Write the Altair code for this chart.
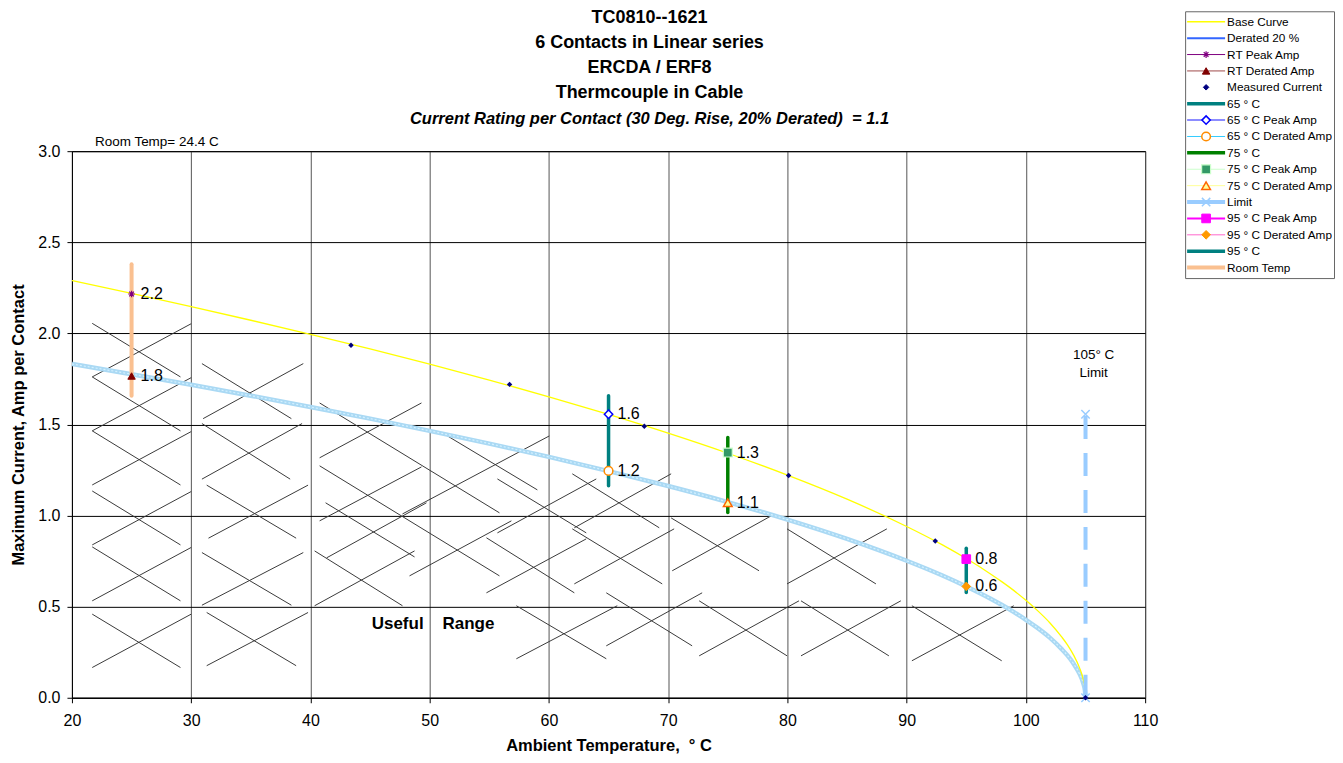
import altair as alt
import pandas as pd

# ---------------- data ----------------
base_t = [20, 25, 30, 35, 40, 45, 50, 55, 60, 65, 70, 75, 80, 85, 90, 93, 95, 97, 98, 99, 100, 101, 102, 103,
          103.5, 104, 104.5, 104.8, 104.95, 105]
base_amp = [2.29, 2.22, 2.147, 2.072, 1.995, 1.915, 1.831, 1.744, 1.652, 1.555, 1.452, 1.342, 1.222, 1.090,
            0.940, 0.839, 0.764, 0.681, 0.636, 0.588, 0.535, 0.477, 0.412, 0.334, 0.289, 0.234, 0.164, 0.103,
            0.050, 0.0]
derated_amp = [1.832, 1.776, 1.718, 1.658, 1.596, 1.532, 1.465, 1.395, 1.322, 1.244, 1.162, 1.074, 0.978, 0.872,
               0.752, 0.671, 0.611, 0.545, 0.509, 0.470, 0.428, 0.382, 0.330, 0.267, 0.231, 0.187, 0.131, 0.082,
               0.040, 0.0]

meas_t = [43.4, 56.7, 68.0, 80.1, 92.4, 105.0]
meas_amp = [1.935, 1.72, 1.49, 1.22, 0.86, 0.0]

bar_name = ["Room Temp", "65 ° C", "75 ° C", "95 ° C"]
bar_t = [25, 65, 75, 95]
bar_lo = [1.657, 1.163, 1.017, 0.578]
bar_hi = [2.379, 1.657, 1.428, 0.821]

pt_name = ["RT Peak Amp", "RT Derated Amp", "65 ° C Peak Amp", "65 ° C Derated Amp",
           "75 ° C Peak Amp", "75 ° C Derated Amp", "95 ° C Peak Amp", "95 ° C Derated Amp"]
pt_t = [25, 25, 65, 65, 75, 75, 95, 95]
pt_amp = [2.216, 1.766, 1.556, 1.245, 1.346, 1.071, 0.761, 0.611]
pt_label = ["2.2", "1.8", "1.6", "1.2", "1.3", "1.1", "0.8", "0.6"]

limit_t = [105, 105]
limit_amp = [0.0, 1.556]

hatch_x1 = [21.7, 21.7, 21.7, 21.7, 21.7, 21.7, 21.7, 21.7, 21.7, 21.7, 21.7, 21.7,
            30.9, 31.0, 30.9, 30.9, 31.3, 31.45, 30.9, 30.9, 31.3, 31.3,
            40.77, 40.77, 40.77, 40.77, 41.27, 41.36, 40.35, 40.35, 48.31, 47.72, 51.49, 55.68, 54.76, 54.76,
            55.68, 57.27, 57.27,
            61.96, 62.13, 61.96, 62.13, 64.81, 64.81,
            70.25, 70.34, 72.6, 72.6,
            79.97, 79.97, 81.14, 81.14,
            90.44, 90.44]
hatch_y1 = [2.055, 1.761, 1.761, 1.465, 1.465, 1.168, 1.135, 0.839, 0.828, 0.532, 0.459, 0.166,
            1.834, 1.532, 1.505, 1.200, 1.167, 0.876, 0.797, 0.508, 0.468, 0.176,
            1.618, 1.317, 1.273, 0.971, 1.070, 0.768, 0.806, 0.505, 0.669, 1.009, 1.437, 1.201, 0.878, 0.576,
            0.905, 0.505, 0.214,
            1.229, 0.933, 0.927, 0.625, 0.576, 0.285,
            0.987, 0.697, 0.532, 0.230,
            0.927, 0.625, 0.532, 0.230,
            0.505, 0.203]
hatch_x2 = [29.1, 30.0, 29.1, 30.0, 29.1, 30.0, 29.1, 30.0, 29.1, 30.0, 29.1, 30.0,
            38.4, 39.4, 38.3, 39.3, 38.8, 39.8, 38.4, 39.4, 38.8, 39.8,
            55.85, 49.31, 55.85, 49.31, 48.73, 49.73, 47.72, 48.73, 56.85, 60.03, 59.03, 63.13, 62.13, 63.13,
            63.97, 64.81, 65.73,
            69.25, 70.25, 69.5, 70.5, 72.01, 72.85,
            77.62, 78.63, 79.97, 80.97,
            87.42, 88.34, 88.51, 89.51,
            97.97, 98.98]
hatch_y2 = [1.761, 2.053, 1.465, 1.757, 1.168, 1.461, 0.839, 1.132, 0.532, 0.825, 0.166, 0.459,
            1.532, 1.834, 1.200, 1.505, 0.876, 1.167, 0.508, 0.797, 0.176, 0.468,
            1.015, 1.618, 0.669, 1.267, 0.773, 1.070, 0.505, 0.806, 0.971, 1.437, 1.141, 0.905, 0.576, 0.872,
            1.201, 0.214, 0.505,
            0.933, 1.229, 0.625, 0.927, 0.285, 0.576,
            0.697, 0.998, 0.230, 0.532,
            0.625, 0.927, 0.230, 0.532,
            0.203, 0.505]

legend_names = ["Base Curve", "Derated 20 %", "RT Peak Amp", "RT Derated Amp", "Measured Current",
                "65 ° C", "65 ° C Peak Amp", "65 ° C Derated Amp", "75 ° C", "75 ° C Peak Amp",
                "75 ° C Derated Amp", "Limit", "95 ° C Peak Amp", "95 ° C Derated Amp", "95 ° C", "Room Temp"]

title_lines = ["TC0810--1621", "6 Contacts in Linear series", "ERCDA / ERF8", "Thermcouple in Cable"]
subtitle_line = "Current Rating per Contact (30 Deg. Rise, 20% Derated)\u00a0\u00a0= 1.1"

# ---------------- styles ----------------
ASTERISK = "M-1,0L1,0M0,-1L0,1M-0.7,-0.7L0.7,0.7M-0.7,0.7L0.7,-0.7"
XMARK = "M-1,-1L1,1M-1,1L1,-1"
bar_color = {"Room Temp": "#fac090", "65 ° C": "#008080", "75 ° C": "#008000", "95 ° C": "#008080"}
bar_width = {"Room Temp": 4, "65 ° C": 3.5, "75 ° C": 3.5, "95 ° C": 3.5}
marker_style = {  # shape, fill, stroke, size, strokeWidth
    "RT Peak Amp": (ASTERISK, "none", "#800080", 45, 1.2),
    "RT Derated Amp": ("triangle-up", "#800000", "#800000", 55, 1),
    "Measured Current": ("diamond", "#000080", "#000080", 30, 1),
    "65 ° C Peak Amp": ("diamond", "white", "#0000ff", 70, 1.5),
    "65 ° C Derated Amp": ("circle", "white", "#ff8c00", 75, 1.5),
    "75 ° C Peak Amp": ("square", "#339966", "#ccffcc", 80, 1.2),
    "75 ° C Derated Amp": ("triangle-up", "#ffff99", "#ff6600", 75, 1.5),
    "Limit": (XMARK, "none", "#99ccff", 70, 1.5),
    "95 ° C Peak Amp": ("square", "#ff00ff", "#ff00ff", 75, 1),
    "95 ° C Derated Amp": ("diamond", "#ff9900", "#ff9900", 75, 1),
}
legend_line = {  # color, width
    "Base Curve": ("#ffff00", 1.3), "Derated 20 %": ("#3366ff", 2), "RT Peak Amp": ("#800080", 1),
    "RT Derated Amp": ("#a04a4a", 1), "65 ° C": ("#008080", 3.5),
    "65 ° C Peak Amp": ("#6666ff", 1.5), "65 ° C Derated Amp": ("#33ccff", 1), "75 ° C": ("#008000", 3.5),
    "75 ° C Peak Amp": ("#ccffcc", 1), "75 ° C Derated Amp": ("#ffff99", 1), "Limit": ("#99ccff", 4),
    "95 ° C Peak Amp": ("#ff00ff", 2), "95 ° C Derated Amp": ("#ff66cc", 1), "95 ° C": ("#008080", 3.5),
    "Room Temp": ("#fac090", 4),
}
FONT = "Liberation Sans"

# ---------------- tables ----------------
curve_df = pd.DataFrame({"t": base_t, "base": base_amp, "derated": derated_amp})
meas_df = pd.DataFrame({"t": meas_t, "amp": meas_amp})
bar_df = pd.DataFrame({"name": bar_name, "t": bar_t, "lo": bar_lo, "hi": bar_hi})
bar_df["color"] = bar_df["name"].map(bar_color)
bar_df["w"] = bar_df["name"].map(bar_width)
pt_df = pd.DataFrame({"name": pt_name, "t": pt_t, "amp": pt_amp, "label": pt_label})
limit_df = pd.DataFrame({"t": limit_t, "amp": limit_amp})
limit_pts = limit_df.assign(name="Limit")
hatch_df = pd.DataFrame({"x1": hatch_x1, "y1": hatch_y1, "x2": hatch_x2, "y2": hatch_y2})


def add_style(df):
    df = df.copy()
    df["shape"] = df["name"].map(lambda n: marker_style[n][0])
    df["fill"] = df["name"].map(lambda n: marker_style[n][1])
    df["stroke"] = df["name"].map(lambda n: marker_style[n][2])
    df["size"] = df["name"].map(lambda n: marker_style[n][3])
    df["sw"] = df["name"].map(lambda n: marker_style[n][4])
    return df


pt_df = add_style(pt_df)
limit_pts = add_style(limit_pts)

xs = alt.Scale(domain=[20, 110], nice=False, zero=False)
ys = alt.Scale(domain=[0, 3], nice=False, zero=False)
x_axis = alt.Axis(values=list(range(20, 111, 10)), format="d", labelFlush=False,
                  title="Ambient Temperature,\u00a0\u00a0° C",
                  grid=True, gridColor="#555555", gridWidth=1, gridOpacity=1,
                  labelFontSize=16, titleFontSize=16.5, titleFontWeight="bold",
                  labelColor="black", titleColor="black", domainColor="black", tickColor="black",
                  tickSize=5, labelPadding=10, titlePadding=9, labelFont=FONT, titleFont=FONT)
y_axis = alt.Axis(values=[0, 0.5, 1, 1.5, 2, 2.5, 3], format=".1f", labelFlush=False,
                  title="Maximum Current, Amp per Contact",
                  grid=True, gridColor="#000000", gridWidth=1, gridOpacity=1,
                  labelFontSize=16, titleFontSize=16.5, titleFontWeight="bold",
                  labelColor="black", titleColor="black", domainColor="black", tickColor="black",
                  tickSize=5, labelPadding=7, titlePadding=11, labelFont=FONT, titleFont=FONT)


def X(f):
    return alt.X(f, type="quantitative", scale=xs, axis=x_axis)


def Y(f):
    return alt.Y(f, type="quantitative", scale=ys, axis=y_axis)


hatch = alt.Chart(hatch_df).mark_rule(color="#3a3a3a", strokeWidth=1).encode(
    x=X("x1"), y=Y("y1"), x2="x2", y2="y2")

derated = alt.Chart(curve_df).mark_line(color="#aad9f4", strokeWidth=4.5, interpolate="monotone").encode(
    x=X("t"), y=Y("derated"))
derated_in = alt.Chart(curve_df).mark_line(color="#d4f1ff", strokeWidth=1.2, strokeDash=[2, 2],
                                           interpolate="monotone").encode(x=X("t"), y=Y("derated"))
base = alt.Chart(curve_df).mark_line(color="#ffff00", strokeWidth=1.3, interpolate="monotone").encode(
    x=X("t"), y=Y("base"))

bars = alt.Chart(bar_df).mark_rule(strokeCap="round").encode(
    x=X("t"), y=Y("lo"), y2="hi",
    color=alt.Color("color:N", scale=None), strokeWidth=alt.StrokeWidth("w:Q", scale=None))

limit_line = alt.Chart(limit_df).mark_line(color="#99ccff", strokeWidth=4, strokeDash=[23, 14]).encode(
    x=X("t"), y=Y("amp"))


def point_layer(df):
    return alt.Chart(df).mark_point(opacity=1).encode(
        x=X("t"), y=Y("amp"),
        shape=alt.Shape("shape:N", scale=None),
        fill=alt.Fill("fill:N", scale=None),
        stroke=alt.Stroke("stroke:N", scale=None),
        size=alt.Size("size:Q", scale=None),
        strokeWidth=alt.StrokeWidth("sw:Q", scale=None))


limit_marks = point_layer(limit_pts)
meas = alt.Chart(meas_df).mark_point(shape="diamond", filled=True, color="#000080", size=30, opacity=1).encode(
    x=X("t"), y=Y("amp"))
pts = point_layer(pt_df)
labels = alt.Chart(pt_df).mark_text(align="left", baseline="middle", dx=9, fontSize=16, font=FONT,
                                    color="black").encode(x=X("t"), y=Y("amp"), text="label:N")

useful_df = pd.DataFrame({"t": [50.28], "amp": [0.406], "txt": ["Useful\u00a0\u00a0\u00a0\u00a0Range"]})
limit_txt_df = pd.DataFrame({"t": [105.68, 105.68], "amp": [1.882, 1.783], "txt": ["105° C", "Limit"]})
room_df = pd.DataFrame({"t": [21.93], "amp": [3.05], "txt": ["Room Temp= 24.4 C"]})

useful = alt.Chart(useful_df).mark_text(fontSize=17, fontWeight="bold", font=FONT, color="black").encode(
    x=X("t"), y=Y("amp"), text="txt:N")
limit_txt = alt.Chart(limit_txt_df).mark_text(fontSize=13.5, font=FONT, color="black").encode(
    x=X("t"), y=Y("amp"), text="txt:N")
room_txt = alt.Chart(room_df).mark_text(fontSize=13.5, font=FONT, color="black", align="left").encode(
    x=X("t"), y=Y("amp"), text="txt:N")

main = alt.layer(
    hatch, derated, derated_in, base, bars, limit_line, limit_marks, meas, pts, labels, useful, limit_txt, room_txt
).properties(
    width=1074, height=547,
    view=alt.ViewBackground(stroke="black", strokeWidth=1),
)

# title block: an empty 1px view whose real title hangs below it
title_block = alt.Chart(pd.DataFrame({"v": [0]})).mark_point(opacity=0, size=0).properties(
    width=1074, height=1,
    view=alt.ViewBackground(stroke="transparent"),
    title=alt.TitleParams(
        text=title_lines, subtitle=subtitle_line, orient="bottom",
        fontSize=18, fontWeight="bold", font=FONT, lineHeight=25, color="black",
        subtitleFontSize=16.5, subtitleFontStyle="italic", subtitleFontWeight="bold", subtitleFont=FONT,
        subtitleColor="black", subtitlePadding=9,
        anchor="middle", frame="group", dx=41, offset=-3),
)

# ---------------- legend panel ----------------
leg_rows = pd.DataFrame({"name": legend_names})
line_rows = leg_rows[leg_rows["name"].isin(legend_line.keys())].copy()
line_rows["lc"] = line_rows["name"].map(lambda n: legend_line[n][0])
line_rows["lw"] = line_rows["name"].map(lambda n: legend_line[n][1])
line_rows["xa"] = 2
line_rows["xb"] = 40
mark_rows = add_style(leg_rows[leg_rows["name"].isin(marker_style.keys())])
mark_rows["t"] = 21
text_rows = leg_rows.copy()
text_rows["t"] = 42

lx = alt.Scale(domain=[0, 149], nice=False, zero=False)
ly = alt.Scale(type="point", domain=legend_names, padding=0.64)

leg_lines = alt.Chart(line_rows).mark_rule().encode(
    x=alt.X("xa:Q", scale=lx, axis=None), x2="xb:Q",
    y=alt.Y("name:N", scale=ly, axis=None),
    color=alt.Color("lc:N", scale=None), strokeWidth=alt.StrokeWidth("lw:Q", scale=None))
leg_marks = alt.Chart(mark_rows).mark_point(opacity=1).encode(
    x=alt.X("t:Q", scale=lx, axis=None), y=alt.Y("name:N", scale=ly, axis=None),
    shape=alt.Shape("shape:N", scale=None), fill=alt.Fill("fill:N", scale=None),
    stroke=alt.Stroke("stroke:N", scale=None), size=alt.Size("size:Q", scale=None),
    strokeWidth=alt.StrokeWidth("sw:Q", scale=None))
leg_text = alt.Chart(text_rows).mark_text(align="left", baseline="middle", fontSize=11.8, font=FONT,
                                          color="black").encode(
    x=alt.X("t:Q", scale=lx, axis=None), y=alt.Y("name:N", scale=ly, axis=None), text="name:N")
legend = alt.layer(leg_lines, leg_marks, leg_text).properties(
    width=149, height=267, view=alt.ViewBackground(stroke="#666666", strokeWidth=1))

left = alt.vconcat(title_block, main, spacing=6)

chart = alt.hconcat(left, legend, spacing=25).resolve_scale(
    x="independent", y="independent", color="independent", fill="independent", stroke="independent",
    shape="independent", size="independent", strokeWidth="independent"
).properties(padding={"left": 2, "top": 0, "right": 0, "bottom": 0}).configure(font=FONT)

chart.save("out.html", embed_options={"renderer": "svg", "actions": False})
